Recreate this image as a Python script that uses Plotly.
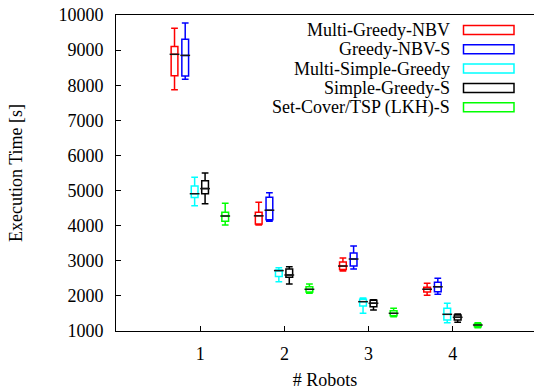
import plotly.graph_objects as go

robots = [1, 2, 3, 4]
tick_labels = ["1", "2", "3", "4"]
series_names = ["Multi-Greedy-NBV", "Greedy-NBV-S", "Multi-Simple-Greedy",
                "Simple-Greedy-S", "Set-Cover/TSP (LKH)-S"]

# box statistics per series, one value per robot count
mgn_low = [7870, 4020, 2710, 2020]
mgn_q1 = [8270, 4050, 2750, 2110]
mgn_med = [8880, 4280, 2850, 2190]
mgn_q3 = [9100, 4380, 2965, 2245]
mgn_high = [9620, 4665, 3080, 2360]

gns_low = [8170, 4125, 2766, 2045]
gns_q1 = [8265, 4170, 2850, 2120]
gns_med = [8850, 4440, 3050, 2260]
gns_q3 = [9310, 4810, 3220, 2390]
gns_high = [9770, 4940, 3420, 2500]

msg_low = [4570, 2400, 1505, 1236]
msg_q1 = [4800, 2550, 1712, 1313]
msg_med = [4910, 2720, 1835, 1475]
msg_q3 = [5130, 2737, 1903, 1646]
msg_high = [5380, 2800, 1940, 1790]

sgs_low = [4625, 2340, 1598, 1248]
sgs_q1 = [4910, 2530, 1693, 1313]
sgs_med = [5055, 2595, 1790, 1390]
sgs_q3 = [5280, 2765, 1874, 1456]
sgs_high = [5500, 2830, 1892, 1484]

sct_low = [4020, 2075, 1407, 1094]
sct_q1 = [4125, 2110, 1436, 1122]
sct_med = [4275, 2188, 1504, 1171]
sct_q3 = [4380, 2262, 1580, 1199]
sct_high = [4637, 2340, 1646, 1236]

stats = [
    (mgn_low, mgn_q1, mgn_med, mgn_q3, mgn_high),
    (gns_low, gns_q1, gns_med, gns_q3, gns_high),
    (msg_low, msg_q1, msg_med, msg_q3, msg_high),
    (sgs_low, sgs_q1, sgs_med, sgs_q3, sgs_high),
    (sct_low, sct_q1, sct_med, sct_q3, sct_high),
]
colors = ["rgb(255,0,0)", "rgb(0,0,255)", "rgb(0,255,255)", "rgb(0,0,0)", "rgb(0,255,0)"]
offsets = [-0.305, -0.178, -0.066, 0.058, 0.297]
box_w = 0.08

FONT = "Times New Roman, Liberation Serif, serif"

fig = go.Figure()
for (lo, q1, med, q3, hi), col, off, name in zip(stats, colors, offsets, series_names):
    xs = [r + off for r in robots]
    fig.add_trace(go.Box(
        x=xs, lowerfence=lo, q1=q1, median=med, q3=q3, upperfence=hi,
        name=name, width=box_w, whiskerwidth=1,
        line=dict(color=col, width=1.5), fillcolor="rgba(0,0,0,0)",
        showlegend=False, hoverinfo="skip", boxpoints=False,
    ))
for (lo, q1, med, q3, hi), off in zip(stats, offsets):
    xs = [r + off for r in robots]
    fig.add_trace(go.Scatter(
        x=xs, y=med, mode="markers",
        marker=dict(symbol="line-ew", size=7, line=dict(color="rgb(20,20,20)", width=1.5)),
        showlegend=False, hoverinfo="skip",
    ))

# plot area in pixels
W, H = 534, 390
L, R, T, B = 116, 534, 15, 331
pw, ph = R - L, B - T

def px(xp):
    return (xp - L) / pw

def py(yp):
    return (B - yp) / ph

annotations = []
shapes = []
row_y = [30, 49.3, 68.6, 87.9, 107.2]
for name, col, yy in zip(series_names, colors, row_y):
    annotations.append(dict(
        text=name, xref="paper", yref="paper", x=px(452), y=py(yy),
        xanchor="right", yanchor="middle", showarrow=False,
        font=dict(family=FONT, size=18, color="black"),
    ))
    shapes.append(dict(
        type="rect", xref="paper", yref="paper",
        x0=px(463.5), x1=px(514), y0=py(yy - 4.5), y1=py(yy + 4.5),
        line=dict(color=col, width=1.5), fillcolor="rgba(0,0,0,0)",
    ))

fig.update_layout(
    width=W, height=H,
    margin=dict(l=L, r=W - R, t=T, b=H - B, pad=0),
    paper_bgcolor="white", plot_bgcolor="white",
    font=dict(family=FONT, size=18, color="black"),
    boxmode="overlay",
    annotations=annotations,
    shapes=shapes,
    xaxis=dict(
        range=[0, (R - L) / 84.2], tickmode="array", tickvals=robots, ticktext=tick_labels,
        showline=True, linecolor="black", linewidth=1, mirror=True,
        ticks="inside", ticklen=5, tickcolor="black", showgrid=False, zeroline=False,
        ticklabelstandoff=6,
        tickfont=dict(family=FONT, size=18),
        title=dict(text="# Robots", standoff=14, font=dict(family=FONT, size=18)),
    ),
    yaxis=dict(
        range=[1000, 10000], dtick=1000, tickformat="d",
        showline=True, linecolor="black", linewidth=1,
        ticks="inside", ticklen=5, tickcolor="black", showgrid=False, zeroline=False,
        ticklabelstandoff=8,
        tickfont=dict(family=FONT, size=18),
        title=dict(text="Execution Time [s]", standoff=31, font=dict(family=FONT, size=18)),
    ),
)

fig.write_html("out.html")
